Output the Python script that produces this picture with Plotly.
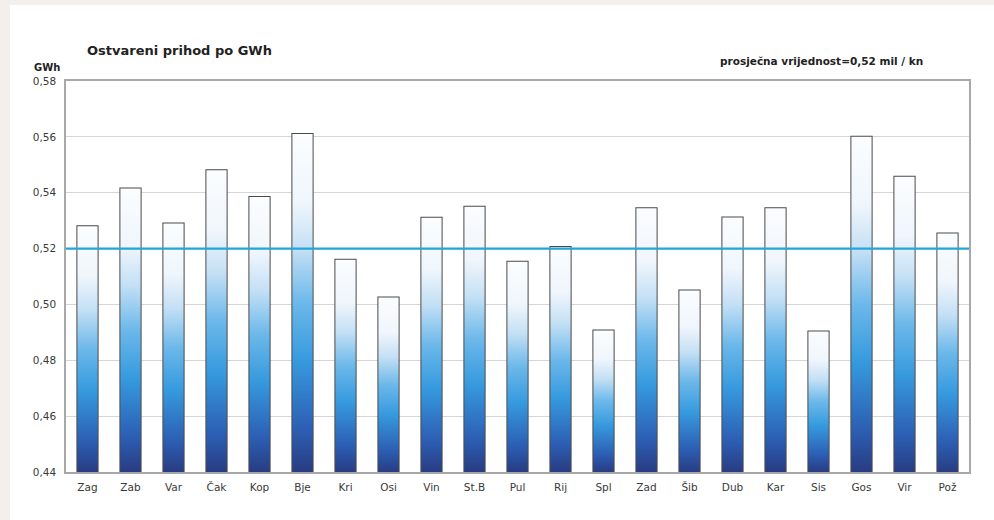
import plotly.graph_objects as go

categories = ["Zag", "Zab", "Var", "Čak", "Kop", "Bje", "Kri", "Osi", "Vin", "St.B", "Pul",
              "Rij", "Spl", "Zad", "Šib", "Dub", "Kar", "Sis", "Gos", "Vir", "Pož"]
values = [0.528, 0.5415, 0.529, 0.548, 0.5385, 0.561, 0.516, 0.5025, 0.531, 0.535, 0.5153,
          0.5206, 0.4907, 0.5344, 0.505, 0.5311, 0.5344, 0.4903, 0.560, 0.5457, 0.5254]
average = 0.52
y_ticks = [0.44, 0.46, 0.48, 0.50, 0.52, 0.54, 0.56, 0.58]

AX_MIN, AX_MAX = 0.44, 0.58
HALF_W = 0.235

grad = [[0.0, "#283c82"], [0.12, "#2c5db2"], [0.33, "#369ade"], [0.5, "#6cb8ea"],
        [0.66, "#c4e0f5"], [0.8, "#f0f6fc"], [1.0, "#fbfdff"]]

FONT = "DejaVu Sans, Verdana, sans-serif"

fig = go.Figure()

# gradient fills of the bars
for i, v in enumerate(values):
    fig.add_trace(go.Scatter(
        x=[i - HALF_W, i - HALF_W, i + HALF_W, i + HALF_W, i - HALF_W],
        y=[AX_MIN, v, v, AX_MIN, AX_MIN],
        mode="lines", line=dict(width=0, color="rgba(0,0,0,0)"),
        fill="toself",
        fillgradient=dict(type="vertical", colorscale=grad),
        hoverinfo="skip", showlegend=False,
    ))

# average line
fig.add_trace(go.Scatter(
    x=[-0.5, len(categories) - 0.5], y=[average, average],
    mode="lines", line=dict(color="#22a6d8", width=2.2),
    hoverinfo="skip", showlegend=False,
))

# bar outlines
fig.add_trace(go.Bar(
    x=list(range(len(categories))), y=[v - AX_MIN for v in values], base=AX_MIN,
    width=2 * HALF_W,
    marker=dict(color="rgba(0,0,0,0)", line=dict(color="#4a4a4a", width=2)),
    showlegend=False, hovertext=categories,
))

fig.update_layout(
    width=994, height=520,
    margin=dict(l=66, r=25, t=81, b=48),
    paper_bgcolor="#f3f0ec",
    plot_bgcolor="white",
    separators=",.",
    font=dict(family=FONT, color="#333333", size=10),
    xaxis=dict(
        range=[-0.5, len(categories) - 0.5],
        tickvals=list(range(len(categories))), ticktext=categories,
        showgrid=False, zeroline=False,
        showline=True, linecolor="#a8a8a8", linewidth=1.5, mirror=True,
        ticks="", ticklabelstandoff=5, tickfont=dict(family=FONT, size=10.5, color="#3a3a3a"),
    ),
    yaxis=dict(
        range=[AX_MIN, AX_MAX], tickvals=y_ticks, tickformat=".2f",
        showgrid=True, gridcolor="#d6d6d6", gridwidth=1, zeroline=False,
        showline=True, linecolor="#a8a8a8", linewidth=1.5, mirror=True,
        ticks="", ticklabelstandoff=6, tickfont=dict(family=FONT, size=10.5, color="#3a3a3a"),
    ),
    shapes=[dict(type="rect", xref="paper", yref="paper", layer="below",
                 x0=(10 - 66) / 903, x1=1.3, y0=-0.5, y1=(472 - 5) / 391,
                 fillcolor="white", line=dict(width=0))],
    annotations=[
        dict(text="<b>Ostvareni prihod po GWh</b>", xref="paper", yref="paper",
             x=(85 - 66) / 903, y=(472 - 50) / 391, xanchor="left", yanchor="middle",
             showarrow=False, font=dict(family=FONT, size=13, color="#222")),
        dict(text="<b>GWh</b>", xref="paper", yref="paper",
             x=(32 - 66) / 903, y=(472 - 67) / 391, xanchor="left", yanchor="middle",
             showarrow=False, font=dict(family=FONT, size=10, color="#222")),
        dict(text="<b>prosječna vrijednost=0,52 mil / kn</b>", xref="paper", yref="paper",
             x=(718 - 66) / 903, y=(472 - 61) / 391, xanchor="left", yanchor="middle",
             showarrow=False, font=dict(family=FONT, size=10.5, color="#222")),
    ],
)

fig.write_html("out.html", config={"displayModeBar": False},
               post_script="document.body.style.margin='0';document.body.style.overflow='hidden';")
